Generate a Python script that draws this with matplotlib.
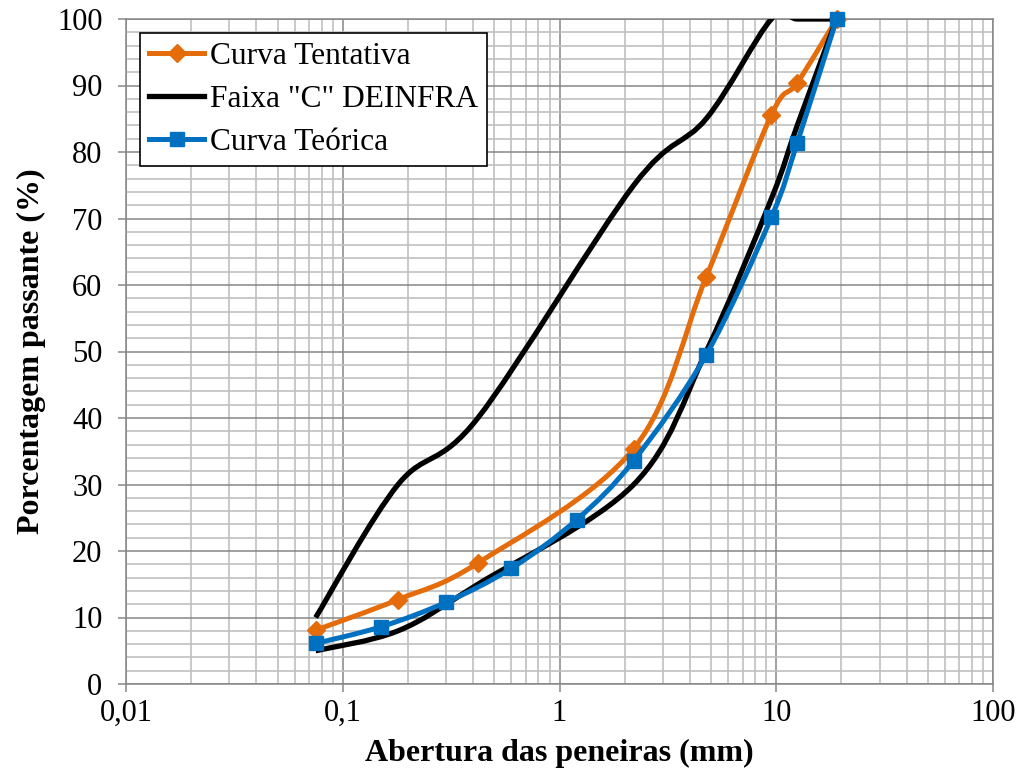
import numpy as np
import matplotlib
matplotlib.use('Agg')
import matplotlib.pyplot as plt
from matplotlib.path import Path
from matplotlib.patches import PathPatch
from matplotlib.lines import Line2D
from matplotlib.ticker import LogLocator, MultipleLocator, NullFormatter

plt.rcParams['font.family'] = ['Liberation Serif', 'DejaVu Serif']

# Dados (abertura em mm, % passante)
peneiras_tentativa = [0.075, 0.18, 0.42, 2.2, 4.75, 9.5, 12.5, 19]
curva_tentativa = [8.1, 12.7, 18.2, 35.4, 61.2, 85.6, 90.4, 100]

peneiras_faixa = [0.075, 0.18, 0.42, 2.2, 4.75, 9.5, 12.5, 19]
faixa_sup = [10, 30, 40, 75, 85, 100, 100, 100]
faixa_inf = [5, 8, 15, 30, 50, 73, 84, 100]

peneiras_teorica = [0.075, 0.15, 0.3, 0.6, 1.2, 2.2, 4.75, 9.5, 12.5, 19]
curva_teorica = [6.1, 8.6, 12.3, 17.4, 24.7, 33.6, 49.5, 70.2, 81.4, 100]

x_ticks = [0.01, 0.1, 1, 10, 100]
x_ticklabels = ['0,01', '0,1', '1', '10', '100']

cor_tentativa = '#E46C0A'
cor_faixa = '#000000'
cor_teorica = '#0070C0'
cor_grade = '#868686'
cor_grade_sec = '#C0C0C0'


def smooth_path(x, y):
    # linha suavizada (bezier tipo Catmull-Rom, como no Excel), no espaco log-x
    pts = np.column_stack([np.log10(x), np.asarray(y, dtype=float)])
    n = len(pts)
    verts = [pts[0]]
    codes = [Path.MOVETO]
    for i in range(n - 1):
        p0 = pts[max(i - 1, 0)]
        p1 = pts[i]
        p2 = pts[i + 1]
        p3 = pts[min(i + 2, n - 1)]
        verts += [p1 + (p2 - p0) / 6.0, p2 - (p3 - p1) / 6.0, p2]
        codes += [Path.CURVE4] * 3
    verts = np.array(verts)
    verts[:, 0] = 10 ** verts[:, 0]
    return Path(verts, codes)


def add_curve(ax, x, y, color, lw, z):
    patch = PathPatch(smooth_path(x, y), fill=False, edgecolor=color, lw=lw,
                      capstyle='butt', joinstyle='round', zorder=z)
    ax.add_patch(patch)


fig = plt.figure(figsize=(10.26, 7.84), dpi=100)
ax = fig.add_axes([126 / 1026, 1 - 684 / 784, 867 / 1026, 665 / 784])

ax.set_xscale('log')
ax.set_xlim(0.01, 100)
ax.set_ylim(0, 100)

lw = 3.6
ms_d = 9.5
ms_s = 9.5
add_curve(ax, peneiras_tentativa, curva_tentativa, cor_tentativa, lw, 3)
ax.plot(peneiras_tentativa, curva_tentativa, linestyle='none', marker='D', ms=ms_d,
        color=cor_tentativa, mec=cor_tentativa, clip_on=False, zorder=3.1)
add_curve(ax, peneiras_faixa, faixa_sup, cor_faixa, 3.8, 3.2)
add_curve(ax, peneiras_faixa, faixa_inf, cor_faixa, 3.8, 3.2)
add_curve(ax, peneiras_teorica, curva_teorica, cor_teorica, lw, 3.3)
ax.plot(peneiras_teorica, curva_teorica, linestyle='none', marker='s', ms=ms_s,
        color=cor_teorica, mec=cor_teorica, clip_on=False, zorder=3.4)

# Eixos e grade
ax.set_xticks(x_ticks)
ax.set_xticklabels(x_ticklabels)
ax.xaxis.set_minor_locator(LogLocator(base=10, subs=range(2, 10)))
ax.xaxis.set_minor_formatter(NullFormatter())
ax.set_yticks(range(0, 101, 10))
ax.yaxis.set_minor_locator(MultipleLocator(2))

ax.set_axisbelow(True)
ax.grid(which='minor', color=cor_grade_sec, lw=1.2)
ax.grid(which='major', color=cor_grade, lw=1.1)
for s in ax.spines.values():
    s.set_color(cor_grade)
    s.set_linewidth(1.1)

ax.tick_params(which='major', length=6, width=1.1, color=cor_grade, labelsize=22)
ax.tick_params(axis='y', which='major', pad=11)
ax.tick_params(axis='x', which='major', pad=5)
ax.tick_params(which='minor', length=0)

ax.set_xlabel('Abertura das peneiras (mm)', fontsize=23, fontweight='bold')
ax.set_ylabel('Porcentagem passante (%)', fontsize=23, fontweight='bold')
ax.xaxis.set_label_coords(0.5, -0.083)
ax.yaxis.set_label_coords(-0.092, 0.5)

handles = [
    Line2D([], [], color=cor_tentativa, lw=lw, marker='D', ms=ms_d),
    Line2D([], [], color=cor_faixa, lw=3.8),
    Line2D([], [], color=cor_teorica, lw=lw, marker='s', ms=ms_s),
]
labels = ['Curva Tentativa', 'Faixa "C" DEINFRA', 'Curva Teórica']
leg = ax.legend(handles, labels, loc='upper left', bbox_to_anchor=(0.016, 0.979),
                borderaxespad=0, fontsize=22.6, fancybox=False, framealpha=1,
                edgecolor='black', handlelength=1.75, handletextpad=0.18,
                labelspacing=0.44, borderpad=0.3)
leg.get_frame().set_linewidth(1.2)

fig.savefig('out.png', dpi=100)
